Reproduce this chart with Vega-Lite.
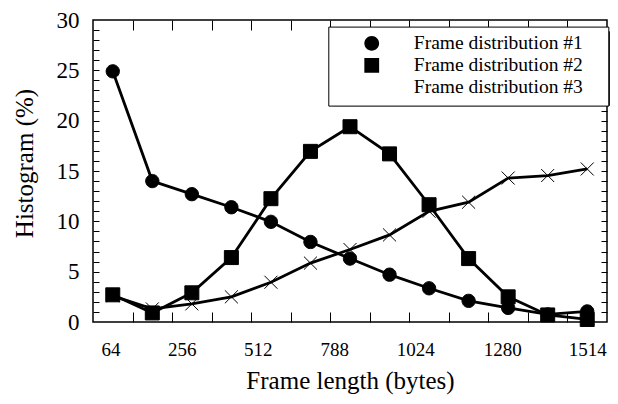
{
  "$schema": "https://vega.github.io/schema/vega-lite/v6.json",
  "width": 514,
  "height": 302,
  "autosize": "none",
  "padding": {"left": 93, "top": 20, "right": 11, "bottom": 82},
  "background": "white",
  "config": {
    "view": {"stroke": "black", "strokeWidth": 1.5},
    "font": "Liberation Serif",
    "axis": {"grid": false, "labelColor": "black", "titleColor": "black", "tickColor": "black", "domainColor": "black"}
  },
  "data": {
    "values": [
      {"series": "Frame distribution #1", "bin": 0, "pct": 24.9},
      {"series": "Frame distribution #1", "bin": 1, "pct": 14.0},
      {"series": "Frame distribution #1", "bin": 2, "pct": 12.7},
      {"series": "Frame distribution #1", "bin": 3, "pct": 11.4},
      {"series": "Frame distribution #1", "bin": 4, "pct": 9.95},
      {"series": "Frame distribution #1", "bin": 5, "pct": 7.95},
      {"series": "Frame distribution #1", "bin": 6, "pct": 6.3},
      {"series": "Frame distribution #1", "bin": 7, "pct": 4.7},
      {"series": "Frame distribution #1", "bin": 8, "pct": 3.35},
      {"series": "Frame distribution #1", "bin": 9, "pct": 2.1},
      {"series": "Frame distribution #1", "bin": 10, "pct": 1.4},
      {"series": "Frame distribution #1", "bin": 11, "pct": 0.75},
      {"series": "Frame distribution #1", "bin": 12, "pct": 1.05},
      {"series": "Frame distribution #2", "bin": 0, "pct": 2.7},
      {"series": "Frame distribution #2", "bin": 1, "pct": 0.9},
      {"series": "Frame distribution #2", "bin": 2, "pct": 2.9},
      {"series": "Frame distribution #2", "bin": 3, "pct": 6.4},
      {"series": "Frame distribution #2", "bin": 4, "pct": 12.25},
      {"series": "Frame distribution #2", "bin": 5, "pct": 16.95},
      {"series": "Frame distribution #2", "bin": 6, "pct": 19.4},
      {"series": "Frame distribution #2", "bin": 7, "pct": 16.7},
      {"series": "Frame distribution #2", "bin": 8, "pct": 11.65},
      {"series": "Frame distribution #2", "bin": 9, "pct": 6.3},
      {"series": "Frame distribution #2", "bin": 10, "pct": 2.5},
      {"series": "Frame distribution #2", "bin": 11, "pct": 0.7},
      {"series": "Frame distribution #2", "bin": 12, "pct": 0.25},
      {"series": "Frame distribution #3", "bin": 0, "pct": 2.6},
      {"series": "Frame distribution #3", "bin": 1, "pct": 1.3},
      {"series": "Frame distribution #3", "bin": 2, "pct": 1.8},
      {"series": "Frame distribution #3", "bin": 3, "pct": 2.5},
      {"series": "Frame distribution #3", "bin": 4, "pct": 3.95},
      {"series": "Frame distribution #3", "bin": 5, "pct": 5.85},
      {"series": "Frame distribution #3", "bin": 6, "pct": 7.2},
      {"series": "Frame distribution #3", "bin": 7, "pct": 8.65},
      {"series": "Frame distribution #3", "bin": 8, "pct": 11.0},
      {"series": "Frame distribution #3", "bin": 9, "pct": 11.9},
      {"series": "Frame distribution #3", "bin": 10, "pct": 14.3},
      {"series": "Frame distribution #3", "bin": 11, "pct": 14.55},
      {"series": "Frame distribution #3", "bin": 12, "pct": 15.2}
    ]
  },
  "layer": [
    {
      "mark": {"type": "line", "color": "black", "strokeWidth": 2.8},
      "encoding": {
        "x": {
          "field": "bin", "type": "quantitative",
          "scale": {"domain": [-0.5, 12.5], "nice": false, "zero": false},
          "axis": {
            "orient": "bottom",
            "values": [-0.057, 1.746, 3.668, 5.6, 7.651, 9.849, 12.0],
            "labelExpr": "datum.value < 0.5 ? '64' : datum.value < 2.5 ? '256' : datum.value < 4.5 ? '512' : datum.value < 6.5 ? '788' : datum.value < 8.5 ? '1024' : datum.value < 11 ? '1280' : '1514'",
            "ticks": false, "domain": false,
            "labelFontSize": 19, "labelPadding": 18, "labelOverlap": false, "labelFlush": false,
            "title": "Frame length (bytes)", "titleFontSize": 25, "titleFontWeight": "normal", "titlePadding": 9
          }
        },
        "y": {
          "field": "pct", "type": "quantitative",
          "scale": {"domain": [0, 30], "nice": false},
          "axis": {
            "orient": "left",
            "values": [0, 5, 10, 15, 20, 25, 30],
            "ticks": false, "domain": false,
            "labelFontSize": 23, "labelPadding": 14, "labelOverlap": false, "labelFlush": false,
            "title": "Histogram (%)", "titleFontSize": 25, "titleFontWeight": "normal", "titlePadding": 19, "titleY": 143
          }
        },
        "detail": {"field": "series"}
      }
    },
    {
      "mark": {"type": "point", "filled": true, "color": "black", "stroke": "black", "strokeWidth": 1, "opacity": 1, "size": 196},
      "encoding": {
        "x": {"field": "bin", "type": "quantitative", "axis": null},
        "y": {"field": "pct", "type": "quantitative", "axis": null},
        "shape": {
          "field": "series", "type": "nominal",
          "scale": {"range": ["M-0.95,0A0.95,0.95,0,1,1,0.95,0A0.95,0.95,0,1,1,-0.95,0Z", "M-1,-1H1V1H-1Z", "M-0.93,-0.93L0.93,0.93M-0.93,0.93L0.93,-0.93"]},
          "legend": null
        }
      }
    },
    {
      "mark": {"type": "point", "filled": true, "color": "black", "stroke": "black", "strokeWidth": 2, "opacity": 0},
      "encoding": {
        "x": {
          "field": "bin", "type": "quantitative",
          "axis": {"orient": "bottom", "values": [0.5, 1.5, 2.5, 3.5, 4.5, 5.5, 6.5, 7.5, 8.5, 9.5, 10.5, 11.5], "labels": false, "domain": false, "tickSize": -10, "tickWidth": 1, "title": null}
        },
        "y": {
          "field": "pct", "type": "quantitative",
          "axis": {"orient": "left", "values": [1,2,3,4,5,6,7,8,9,10,11,12,13,14,15,16,17,18,19,20,21,22,23,24,25,26,27,28,29], "labels": false, "domain": false, "tickSize": -6, "tickWidth": 1, "title": null}
        },
        "shape": {
          "field": "series", "type": "nominal",
          "scale": {"range": [
            "M-0.39,0H6.66M2.27,0A0.87,0.87,0,1,1,4.01,0A0.87,0.87,0,1,1,2.27,0ZM29.64,0",
            "M-0.39,0H6.66M2.27,-0.87H4.01V0.87H2.27ZM29.64,0",
            "M-0.39,0H6.66M2.29,-0.85L3.99,0.85M2.29,0.85L3.99,-0.85M29.64,0"
          ]},
          "legend": {
            "title": null, "orient": "none", "legendX": 235.3, "legendY": 6.6, "zindex": 2,
            "fillColor": "white", "strokeColor": "black", "padding": 7,
            "labelFont": "Liberation Serif", "labelFontSize": 19.5, "labelColor": "black", "labelLimit": 400,
            "labelOffset": 59, "rowPadding": -3.5, "symbolSize": 289, "symbolStrokeWidth": 2,
            "symbolFillColor": "black", "symbolStrokeColor": "black", "symbolOpacity": 1
          }
        }
      }
    },
    {
      "mark": {"type": "point", "opacity": 0},
      "encoding": {
        "x": {
          "field": "bin", "type": "quantitative",
          "axis": {"orient": "top", "values": [0.5, 1.5, 2.5, 3.5, 4.5, 5.5, 6.5, 7.5, 8.5, 9.5, 10.5, 11.5], "labels": false, "domain": false, "tickSize": -10, "tickWidth": 1, "title": null}
        },
        "y": {
          "field": "pct", "type": "quantitative",
          "axis": {"orient": "right", "values": [1,2,3,4,5,6,7,8,9,10,11,12,13,14,15,16,17,18,19,20,21,22,23,24,25,26,27,28,29], "labels": false, "domain": false, "tickSize": -6, "tickWidth": 1, "title": null}
        },
        "strokeWidth": {
          "field": "series", "type": "nominal",
          "scale": {"domain": ["Frame distribution #3", "Frame distribution #2", "Frame distribution #1"], "range": [2, 2, 2]},
          "legend": {
            "title": null, "orient": "none", "legendX": 239.8, "legendY": 11.1, "zindex": 1,
            "fillColor": "black", "strokeColor": "black", "padding": 7,
            "labelFont": "Liberation Serif", "labelFontSize": 19.5, "labelColor": "black",
            "labelExpr": "'\u00a0'",
            "labelOffset": 0, "rowPadding": -3.5, "symbolSize": 289, "symbolStrokeWidth": 2,
            "symbolOpacity": 0,
            "symbolType": "M-0.39,-0.87M29.64,0.87"
          }
        }
      }
    }
  ],
  "resolve": {"axis": {"x": "independent", "y": "independent"}, "scale": {"shape": "independent"}}
}
